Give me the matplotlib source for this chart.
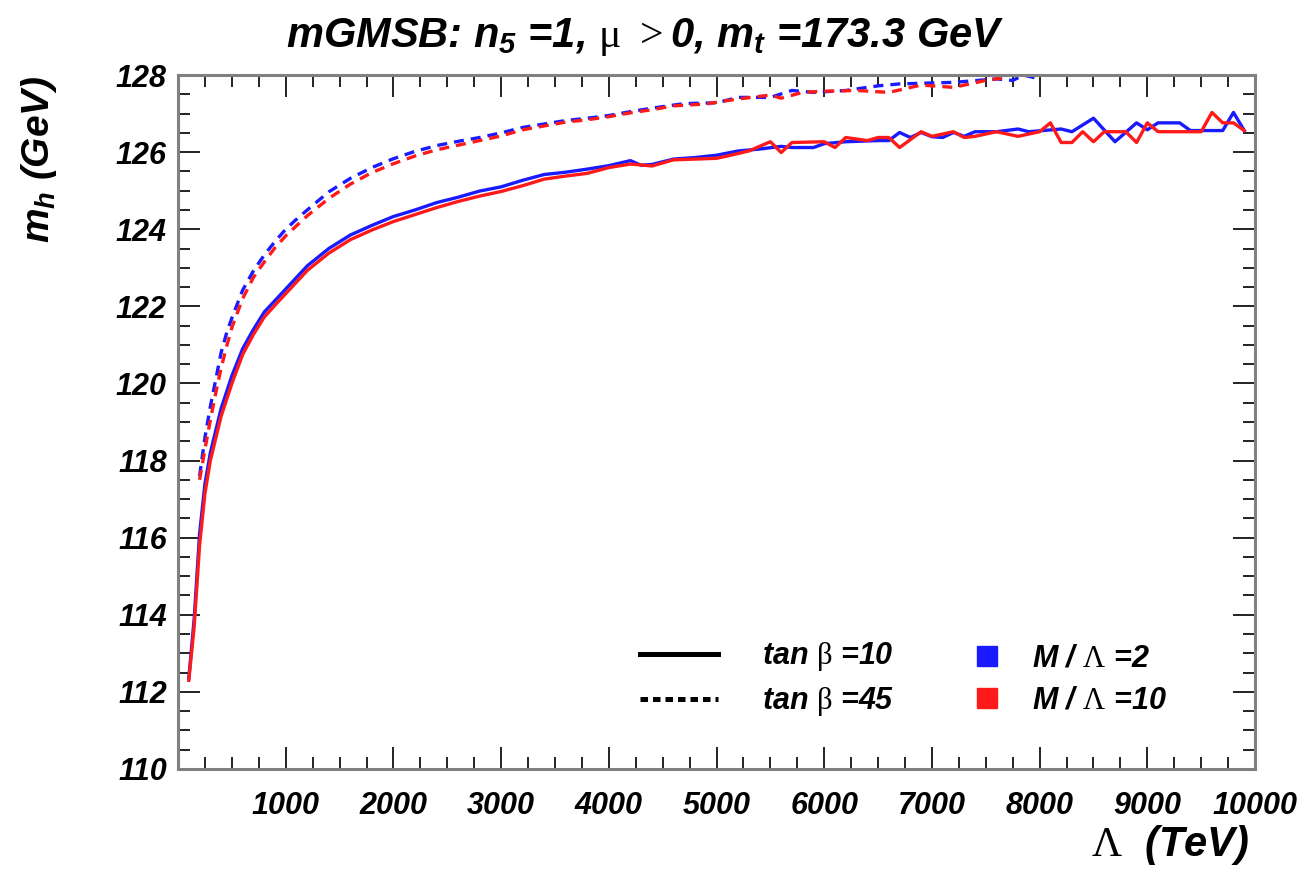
import matplotlib
matplotlib.use("Agg")
import matplotlib.pyplot as plt
from matplotlib.lines import Line2D
from matplotlib.ticker import FixedLocator, MultipleLocator

plt.rcParams["font.family"] = ["Liberation Sans", "DejaVu Sans"]
plt.rcParams["font.weight"] = "bold"
plt.rcParams["font.style"] = "italic"
plt.rcParams["mathtext.fontset"] = "custom"
plt.rcParams["mathtext.it"] = "Liberation Sans:style=italic:weight=bold"
plt.rcParams["mathtext.bf"] = "Liberation Sans:style=italic:weight=bold"
plt.rcParams["mathtext.rm"] = "Liberation Sans:style=italic:weight=bold"
# upright serif symbols (mu, beta, Lambda, >)
plt.rcParams["mathtext.sf"] = "Liberation Serif:style=normal:weight=normal"
plt.rcParams["mathtext.default"] = "it"

# ---- data: light Higgs mass m_h (GeV) versus messenger scale Lambda (TeV) ----
# tan(beta) = 10, M/Lambda = 2
lam_t10_m2 = [100, 150, 200, 250, 300, 400, 500, 600, 700, 800, 900, 1000, 1200, 1400,
              1600, 1800, 2000, 2200, 2400, 2600, 2800, 3000, 3200, 3400, 3600, 3800,
              4000, 4200, 4300, 4400, 4600, 4800, 5000, 5200, 5400, 5600, 5700, 5900,
              6000, 6200, 6500, 6600, 6700, 6800, 6900, 7000, 7100, 7200, 7300, 7400,
              7600, 7800, 7900, 8200, 8300, 8500, 8700, 8900, 9000, 9100, 9300, 9400,
              9700, 9800, 9900]
mh_t10_m2 = [112.35, 113.9, 116.1, 117.4, 118.2, 119.35, 120.2, 120.9, 121.4, 121.85,
             122.15, 122.45, 123.05, 123.5, 123.85, 124.1, 124.33, 124.5, 124.69, 124.83,
             124.99, 125.1, 125.27, 125.42, 125.48, 125.56, 125.65, 125.78, 125.66,
             125.68, 125.82, 125.86, 125.92, 126.03, 126.08, 126.15, 126.12, 126.12,
             126.22, 126.27, 126.3, 126.3, 126.51, 126.38, 126.51, 126.4, 126.38, 126.51,
             126.41, 126.53, 126.53, 126.6, 126.53, 126.6, 126.53, 126.88, 126.27,
             126.76, 126.58, 126.76, 126.76, 126.56, 126.56, 127.03, 126.56]

# tan(beta) = 10, M/Lambda = 10
lam_t10_m10 = [100, 150, 200, 250, 300, 400, 500, 600, 700, 800, 900, 1000, 1200, 1400,
               1600, 1800, 2000, 2200, 2400, 2600, 2800, 3000, 3200, 3400, 3600, 3800,
               4000, 4200, 4300, 4400, 4600, 4800, 5000, 5100, 5300, 5500, 5600, 5700,
               6000, 6100, 6200, 6400, 6500, 6600, 6700, 6900, 7000, 7200, 7300, 7400,
               7600, 7800, 8000, 8100, 8200, 8300, 8400, 8500, 8600, 8800, 8900, 9000,
               9100, 9500, 9600, 9700, 9800, 9900]
mh_t10_m10 = [112.3, 113.7, 115.8, 117.15, 118.0, 119.15, 120.0, 120.75, 121.27, 121.72,
              122.03, 122.33, 122.93, 123.38, 123.73, 123.98, 124.2, 124.38, 124.56,
              124.72, 124.86, 124.98, 125.13, 125.3, 125.38, 125.45, 125.6, 125.69,
              125.67, 125.64, 125.8, 125.82, 125.84, 125.9, 126.03, 126.27, 125.99,
              126.25, 126.27, 126.12, 126.38, 126.3, 126.38, 126.38, 126.12, 126.53,
              126.41, 126.53, 126.38, 126.41, 126.53, 126.41, 126.53, 126.76, 126.25,
              126.25, 126.53, 126.27, 126.53, 126.53, 126.25, 126.76, 126.53, 126.53,
              127.03, 126.76, 126.76, 126.56]

# tan(beta) = 45, M/Lambda = 2
lam_t45_m2 = [200, 250, 300, 350, 400, 450, 500, 600, 700, 800, 900, 1000, 1100, 1200,
              1400, 1600, 1800, 2000, 2200, 2400, 2600, 2800, 3000, 3200, 3400, 3600,
              3800, 4000, 4200, 4400, 4700, 5000, 5200, 5500, 5700, 5900, 6200, 6500,
              6700, 7200, 7600, 7750, 7850, 8000]
mh_t45_m2 = [117.6, 118.6, 119.4, 120.1, 120.8, 121.3, 121.7, 122.42, 122.92, 123.33,
             123.68, 124.0, 124.26, 124.5, 124.97, 125.32, 125.6, 125.83, 126.02, 126.17,
             126.28, 126.38, 126.5, 126.64, 126.73, 126.82, 126.88, 126.95, 127.05,
             127.14, 127.26, 127.28, 127.42, 127.42, 127.6, 127.55, 127.6, 127.72,
             127.77, 127.81, 127.9, 127.86, 128.0, 127.9]

# tan(beta) = 45, M/Lambda = 10
lam_t45_m10 = [200, 250, 300, 350, 400, 450, 500, 600, 700, 800, 900, 1000, 1200, 1400,
               1600, 1800, 2000, 2200, 2400, 2600, 2800, 3000, 3200, 3400, 3600, 3800,
               4000, 4200, 4400, 4600, 4900, 5200, 5500, 5600, 5800, 6000, 6300, 6600,
               6900, 7200, 7500, 7650]
mh_t45_m10 = [117.5, 118.3, 119.05, 119.75, 120.4, 120.95, 121.45, 122.2, 122.75, 123.15,
              123.52, 123.83, 124.35, 124.8, 125.17, 125.47, 125.7, 125.9, 126.06, 126.18,
              126.3, 126.42, 126.58, 126.68, 126.78, 126.84, 126.92, 127.02, 127.1, 127.2,
              127.25, 127.38, 127.48, 127.4, 127.55, 127.58, 127.6, 127.55, 127.74,
              127.68, 127.86, 127.92]

x_major = [1000, 2000, 3000, 4000, 5000, 6000, 7000, 8000, 9000, 10000]
y_major = [110, 112, 114, 116, 118, 120, 122, 124, 126, 128]

BLUE = "#1a1aff"
RED = "#ff1a1a"

fig = plt.figure(figsize=(13.11, 8.86), dpi=100)
ax = fig.add_axes([0.1358, 0.1321, 0.8215, 0.7832])

lw = 2.4
dash = (3.0, 2.1)
ax.plot(lam_t10_m2, mh_t10_m2, color=BLUE, lw=lw)
ax.plot(lam_t45_m2, mh_t45_m2, color=BLUE, lw=lw, dashes=dash)
ax.plot(lam_t10_m10, mh_t10_m10, color=RED, lw=lw)
ax.plot(lam_t45_m10, mh_t45_m10, color=RED, lw=lw, dashes=dash)

ax.set_xlim(0, 10000)
ax.set_ylim(110, 128)
ax.xaxis.set_major_locator(FixedLocator(x_major))
ax.xaxis.set_minor_locator(MultipleLocator(250))
ax.yaxis.set_major_locator(FixedLocator(y_major))
ax.yaxis.set_minor_locator(MultipleLocator(0.5))
ax.tick_params(which="both", direction="in", top=True, right=True, color="#222222",
               width=1.4)
ax.tick_params(which="major", length=16, labelsize=22)
ax.tick_params(which="minor", length=8.5)
ax.tick_params(axis="x", which="major", pad=16)
ax.tick_params(axis="y", which="major", pad=8)
for s in ax.spines.values():
    s.set_linewidth(2.2)
    s.set_color("#808080")

fig.text(645 / 1311, 1 - 37 / 886,
         r"mGMSB: $n_{5}$ =1, $\mathsf{\mu}$ $\mathsf{>}$0, $m_{t}$ =173.3 GeV",
         fontsize=30, fontweight="bold", fontstyle="italic",
         ha="center", va="center")

ax.set_ylabel(r"$m_{h}$ (GeV)", fontsize=28, fontweight="bold", va="center")
ax.yaxis.set_label_coords(-0.129, 1.0)
ax.yaxis.label.set_ha("right")
ax.set_xlabel(r"$\mathsf{\Lambda}$  (TeV)", fontsize=30, fontweight="bold",
              va="center")
ax.xaxis.set_label_coords(0.995, -0.11)
ax.xaxis.label.set_ha("right")

leg_font = {"size": 22, "weight": "bold", "style": "italic"}
style_handles = [Line2D([], [], color="black", lw=3.6),
                 Line2D([], [], color="black", lw=3.6, dashes=(1.5, 1.0))]
style_labels = [r"tan $\mathsf{\beta}$ =10", r"tan $\mathsf{\beta}$ =45"]
leg1 = ax.legend(style_handles, style_labels, loc="center left",
                 bbox_to_anchor=(0.429, 0.129), frameon=False, prop=leg_font,
                 handlelength=2.55, handletextpad=1.44, labelspacing=0.39,
                 borderpad=0, borderaxespad=0)
ax.add_artist(leg1)

ratio_handles = [Line2D([], [], ls="none", marker="s", markersize=15, color=BLUE),
                 Line2D([], [], ls="none", marker="s", markersize=15, color=RED)]
ratio_labels = [r"M / $\mathsf{\Lambda}$ =2", r"M / $\mathsf{\Lambda}$ =10"]
ax.legend(ratio_handles, ratio_labels, loc="center left",
          bbox_to_anchor=(0.7405, 0.129), frameon=False, prop=leg_font,
          handlelength=0.75, handletextpad=1.1, labelspacing=0.39,
          borderpad=0, borderaxespad=0)

fig.savefig("out.png", dpi=100, facecolor="white")
